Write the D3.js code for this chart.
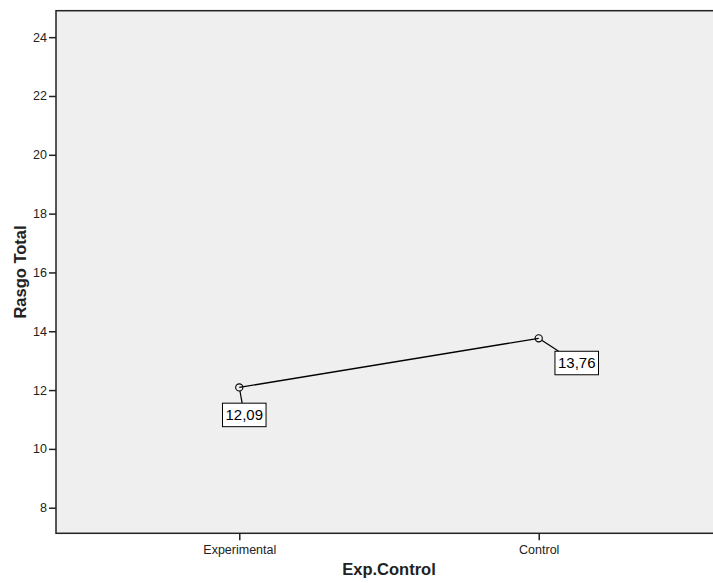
<!DOCTYPE html>
<html>
<head>
<meta charset="utf-8">
<script src="https://cdn.jsdelivr.net/npm/d3@7"></script>
<style>
  html, body { margin: 0; padding: 0; background: #fff; }
  svg { display: block; font-family: Arial, "Liberation Sans", sans-serif; }
</style>
</head>
<body>
<svg id="chart" width="713" height="583"></svg>
<script>
// ---- data ----
const categories = ["Experimental", "Control"];
const values = [12.09, 13.76];
const valueLabels = ["12,09", "13,76"];
const yTicks = [8, 10, 12, 14, 16, 18, 20, 22, 24];
const xTitle = "Exp.Control";
const yTitle = "Rasgo Total";

// ---- layout ----
const W = 713, H = 583;
const plot = { left: 56, top: 10.7, right: 722, bottom: 533.3 };
const labelOffsets = [[5, 27.5], [38, 24.7]]; // label box centre relative to point

const svg = d3.select("#chart");

const x = d3.scalePoint().domain(categories).range([plot.left, plot.right]).padding(0.612);
const y = d3.scaleLinear().domain([7.13, 24.9]).range([plot.bottom, plot.top]);

// plot background
svg.append("rect")
  .attr("x", plot.left).attr("y", plot.top)
  .attr("width", plot.right - plot.left).attr("height", plot.bottom - plot.top)
  .attr("fill", "#efefef").attr("stroke", "#222").attr("stroke-width", 1.5);

// axes
const yAxis = d3.axisLeft(y).tickValues(yTicks).tickSize(7).tickPadding(2).tickFormat(d3.format("d"));
const gy = svg.append("g").attr("transform", `translate(${plot.left},0)`).call(yAxis);
gy.select(".domain").remove();
gy.selectAll("line").attr("stroke", "#222").attr("stroke-width", 1.5);
gy.selectAll("text").attr("font-size", 12.5).attr("fill", "#222")
  .attr("font-family", "Arial, 'Liberation Sans', sans-serif");

const xAxis = d3.axisBottom(x).tickSize(7).tickPadding(5);
const gx = svg.append("g").attr("transform", `translate(0,${plot.bottom})`).call(xAxis);
gx.select(".domain").remove();
gx.selectAll("line").attr("stroke", "#222").attr("stroke-width", 1.5);
gx.selectAll("text").attr("font-size", 12.5).attr("fill", "#222")
  .attr("font-family", "Arial, 'Liberation Sans', sans-serif");

// axis titles
svg.append("text")
  .attr("x", (plot.left + plot.right) / 2).attr("y", 575)
  .attr("text-anchor", "middle").attr("font-weight", "bold").attr("font-size", 16.5)
  .attr("fill", "#222").text(xTitle);

svg.append("text")
  .attr("transform", `translate(26,${(plot.top + plot.bottom) / 2}) rotate(-90)`)
  .attr("text-anchor", "middle").attr("font-weight", "bold").attr("font-size", 16.5)
  .attr("fill", "#222").text(yTitle);

// line
const pts = categories.map((c, i) => ({ c, v: values[i], lab: valueLabels[i], off: labelOffsets[i] }));
svg.append("path")
  .datum(pts)
  .attr("fill", "none").attr("stroke", "#000").attr("stroke-width", 1.3)
  .attr("d", d3.line().x(d => x(d.c)).y(d => y(d.v)));

// labels with leaders
const r = 3.6;
pts.forEach(d => {
  const px = x(d.c), py = y(d.v);
  const cx = px + d.off[0], cy = py + d.off[1];
  const g = svg.append("g");
  const leader = g.append("line");
  const box = g.append("rect");
  const t = g.append("text")
    .attr("x", cx).attr("y", cy + 5.4)
    .attr("text-anchor", "middle").attr("font-size", 15).attr("fill", "#000")
    .text(d.lab);
  const bb = t.node().getBBox();
  const bw = bb.width + 6, bh = 23.5;
  const bx = cx - bw / 2, by = cy - bh / 2;
  const dx = cx - px, dy = cy - py;
  const len = Math.hypot(dx, dy);
  const tTop = (by - py) / dy;
  const tSide = dx > 0 ? (bx - px) / dx : (bx + bw - px) / dx;
  const tEnter = Math.max(tTop, tSide);
  leader
    .attr("x1", px + dx / len * r).attr("y1", py + dy / len * r)
    .attr("x2", px + dx * tEnter).attr("y2", py + dy * tEnter)
    .attr("stroke", "#000").attr("stroke-width", 1.2);
  box
    .attr("x", bx).attr("y", by).attr("width", bw).attr("height", bh)
    .attr("fill", "#fff").attr("stroke", "#000").attr("stroke-width", 1);
  g.append("circle")
    .attr("cx", px).attr("cy", py).attr("r", r)
    .attr("fill", "none").attr("stroke", "#000").attr("stroke-width", 1.1);
});
</script>
</body>
</html>
